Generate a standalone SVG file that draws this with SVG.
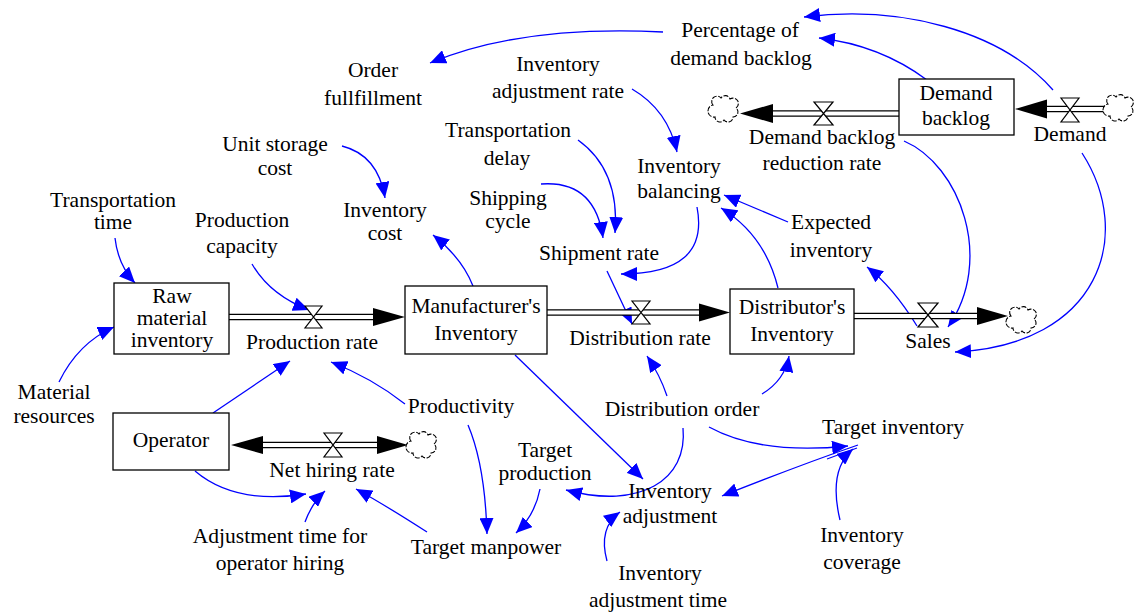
<svg xmlns="http://www.w3.org/2000/svg" width="1135" height="616" viewBox="0 0 1135 616">
<defs>
<style>
.t text{font-family:"Liberation Serif","DejaVu Serif","Noto Serif","Tinos","Times New Roman","Times","FreeSerif","Nimbus Roman",serif;font-size:21.5px;fill:#000;text-anchor:middle}
.stock{fill:#fff;stroke:#000;stroke-width:1.3}
.pipeo{stroke:#000;stroke-width:6.5;fill:none}
.pipei{stroke:#fff;stroke-width:4;fill:none}
.valve{fill:#fff;stroke:#000;stroke-width:1.2}
.cloud{fill:#fff;stroke:#000;stroke-width:1.1;stroke-dasharray:5 1.5}
.fh{fill:#000}
.link{fill:none;stroke:#0000ff;stroke-width:1.3;marker-end:url(#ah)}
</style>
<marker id="ah" markerUnits="userSpaceOnUse" markerWidth="17" markerHeight="14" refX="16" refY="7" orient="auto">
<path d="M0,0 L16,7 L0,14 z" fill="#0000ff"/>
</marker>
<path id="cl" d="M-12,-4 a5,5 0 0 1 8,-7 a5,5 0 0 1 9,1 a5,5 0 0 1 6,9 a5,5 0 0 1 -3,9 a5,5 0 0 1 -9,3 a5,5 0 0 1 -9,-3 a5,5 0 0 1 -2,-12 z"/>
</defs>

<g id="connectors">
<path class="link" d="M115,238 Q118,265 135,283"/>
<path class="link" d="M252,264 Q270,295 309,310"/>
<path class="link" d="M59,382 Q78,343 114,327"/>
<path class="link" d="M213,413 L290,361"/>
<path class="link" d="M405,404 Q372,378 331,362"/>
<path class="link" d="M473,286 Q462,258 433,235"/>
<path class="link" d="M342,146 Q378,155 385,198"/>
<path class="link" d="M632,89 Q668,110 677,152"/>
<path class="link" d="M578,140 Q620,170 615,233"/>
<path class="link" d="M541,184 Q595,180 603,238"/>
<path class="link" d="M697,207 Q710,274 621,274"/>
<path class="link" d="M607,271 L632,324"/>
<path class="link" d="M667,396 Q660,375 647,356"/>
<path class="link" d="M762,394 Q785,380 789,356"/>
<path class="link" d="M778,288 Q765,235 721,208"/>
<path class="link" d="M788,222 L724,195"/>
<path class="link" d="M917,326 Q893,287 867,267"/>
<path class="link" d="M904,141 C960,165 995,260 948,327"/>
<path class="link" d="M1082,153 C1135,235 1100,345 955,352"/>
<path class="link" d="M927,80 Q880,45 819,38"/>
<path class="link" d="M1053,90 C1000,30 900,5 804,17"/>
<path class="link" d="M663,32 Q520,25 430,63"/>
<path class="link" d="M515,355 L643,479"/>
<path class="link" d="M683,428 C688,480 640,510 566,490"/>
<path class="link" d="M709,427 Q760,455 848,446"/>
<path class="link" d="M858,445 Q800,465 722,496"/>
<path d="M857,448 L827,459" fill="none" stroke="#0000ff" stroke-width="1.2"/>
<path class="link" d="M840,520 Q828,470 853,449"/>
<path class="link" d="M607,561 Q598,528 620,512"/>
<path class="link" d="M468,425 Q485,465 487,534"/>
<path class="link" d="M540,489 Q535,515 516,533"/>
<path class="link" d="M427,532 Q385,505 356,489"/>
<path class="link" d="M305,522 Q312,503 325,491"/>
<path class="link" d="M195,471 Q235,505 306,494"/>
</g>

<g class="t">
<g id="flow-production-rate">
<path class="pipeo" d="M229,317 H375"/><path class="pipei" d="M227,317 H376"/>
<polygon class="fh" points="373,308 405,317 373,326"/>
<path class="valve" d="M305,306 H322 L305,328 H322 Z"/>
<text x="312" y="349">Production rate</text>
</g>
<g id="flow-distribution-rate">
<path class="pipeo" d="M547,312.5 H700"/><path class="pipei" d="M545,312.5 H701"/>
<polygon class="fh" points="699,303.5 730,312.5 699,321.5"/>
<path class="valve" d="M632,301 H650 L632,324 H650 Z"/>
<text x="640" y="345">Distribution rate</text>
</g>
<g id="flow-sales">
<path class="pipeo" d="M854,316 H978"/><path class="pipei" d="M852,316 H979"/>
<polygon class="fh" points="977,307 1008,316 977,325"/>
<path class="valve" d="M918,303 H938 L918,327 H938 Z"/>
<use href="#cl" class="cloud" x="1023" y="320"/>
<text x="928" y="348">Sales</text>
</g>
<g id="flow-demand-backlog-reduction-rate">
<path class="pipeo" d="M899,113.5 H772"/><path class="pipei" d="M901,113.5 H771"/>
<polygon class="fh" points="773,104 740,113.5 773,123"/>
<path class="valve" d="M814,102 H833 L814,125 H833 Z"/>
<use href="#cl" class="cloud" x="725" y="109"/>
<text x="822" y="144">Demand backlog</text>
<text x="822" y="170">reduction rate</text>
</g>
<g id="flow-demand">
<path class="pipeo" d="M1107,109 H1046"/><path class="pipei" d="M1108,109 H1045"/>
<polygon class="fh" points="1047,99.5 1015,109 1047,118.5"/>
<path class="valve" d="M1061,98 H1079 L1061,122 H1079 Z"/>
<use href="#cl" class="cloud" x="1120" y="108"/>
<text x="1070" y="141">Demand</text>
</g>
<g id="flow-net-hiring-rate">
<path class="pipeo" d="M262,445 H378"/><path class="pipei" d="M261,445 H379"/>
<polygon class="fh" points="263,436 231,445 263,454"/>
<polygon class="fh" points="377,436 408,445 377,454"/>
<path class="valve" d="M324,433 H342 L324,457 H342 Z"/>
<use href="#cl" class="cloud" x="423" y="445"/>
<text x="332" y="477">Net hiring rate</text>
</g>

<g id="raw-material-inventory">
<rect class="stock" x="114" y="283" width="115" height="71"/>
<text x="172" y="303">Raw</text><text x="172" y="325">material</text><text x="172" y="347">inventory</text>
</g>
<g id="manufacturers-inventory">
<rect class="stock" x="405" y="286" width="142" height="68"/>
<text x="476" y="313">Manufacturer's</text><text x="476" y="340">Inventory</text>
</g>
<g id="distributors-inventory">
<rect class="stock" x="730" y="289" width="124" height="65"/>
<text x="792" y="314">Distributor's</text><text x="792" y="341">Inventory</text>
</g>
<g id="demand-backlog">
<rect class="stock" x="899" y="79" width="115" height="56"/>
<text x="956" y="100">Demand</text><text x="956" y="125">backlog</text>
</g>
<g id="operator">
<rect class="stock" x="113" y="413" width="116" height="57"/>
<text x="171" y="447">Operator</text>
</g>

<g id="percentage-of-demand-backlog"><text x="740" y="37">Percentage of</text><text x="741" y="65">demand backlog</text></g>
<g id="order-fullfillment"><text x="373" y="77">Order</text><text x="373" y="105">fullfillment</text></g>
<g id="inventory-adjustment-rate"><text x="558" y="71">Inventory</text><text x="558" y="98">adjustment rate</text></g>
<g id="unit-storage-cost"><text x="275" y="151">Unit storage</text><text x="275" y="175">cost</text></g>
<g id="inventory-cost"><text x="385" y="217">Inventory</text><text x="385" y="240">cost</text></g>
<g id="transportation-time"><text x="113" y="207">Transportation</text><text x="113" y="229">time</text></g>
<g id="production-capacity"><text x="242" y="227">Production</text><text x="242" y="253">capacity</text></g>
<g id="transportation-delay"><text x="508" y="137">Transportation</text><text x="507" y="165">delay</text></g>
<g id="shipping-cycle"><text x="508" y="205">Shipping</text><text x="508" y="228">cycle</text></g>
<g id="shipment-rate"><text x="599" y="260">Shipment rate</text></g>
<g id="inventory-balancing"><text x="679" y="173">Inventory</text><text x="679" y="198">balancing</text></g>
<g id="expected-inventory"><text x="831" y="229">Expected</text><text x="831" y="257">inventory</text></g>
<g id="material-resources"><text x="54" y="399">Material</text><text x="54" y="423">resources</text></g>
<g id="productivity"><text x="461" y="413">Productivity</text></g>
<g id="distribution-order"><text x="682" y="416">Distribution order</text></g>
<g id="target-inventory"><text x="893" y="434">Target inventory</text></g>
<g id="target-production"><text x="545" y="457">Target</text><text x="545" y="480">production</text></g>
<g id="inventory-adjustment"><text x="670" y="498">Inventory</text><text x="670" y="523">adjustment</text></g>
<g id="target-manpower"><text x="486" y="554">Target manpower</text></g>
<g id="inventory-adjustment-time"><text x="660" y="580">Inventory</text><text x="658" y="607">adjustment time</text></g>
<g id="inventory-coverage"><text x="862" y="542">Inventory</text><text x="862" y="569">coverage</text></g>
<g id="adjustment-time-for-operator-hiring"><text x="280" y="543">Adjustment time for</text><text x="280" y="570">operator hiring</text></g>
</g>
</svg>
